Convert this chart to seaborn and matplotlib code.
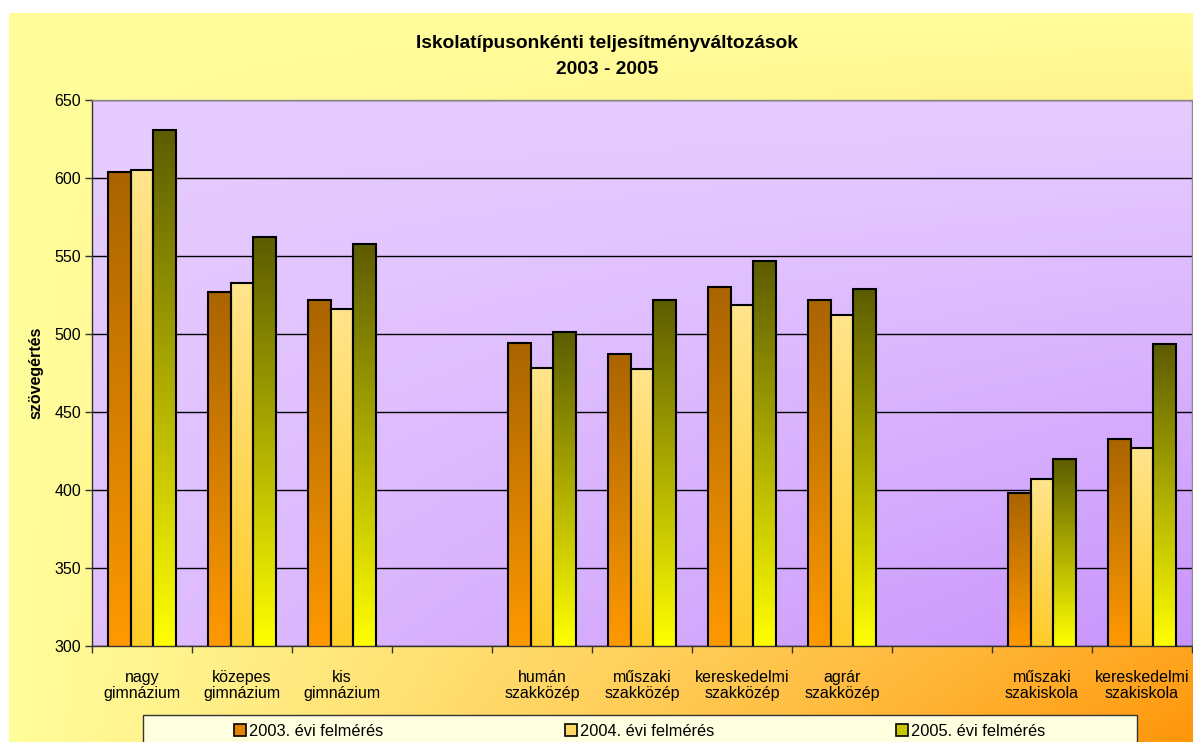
import numpy as np
import pandas as pd
import matplotlib
matplotlib.use("Agg")
import matplotlib.pyplot as plt
import seaborn as sns
from matplotlib.patches import Rectangle

# ---------------- data ----------------
categories = ["nagy\ngimnázium", "közepes\ngimnázium", "kis\ngimnázium", " ",
              "humán\nszakközép", "műszaki\nszakközép", "kereskedelmi\nszakközép",
              "agrár\nszakközép", "  ", "műszaki\nszakiskola", "kereskedelmi\nszakiskola"]
series = ["2003. évi felmérés", "2004. évi felmérés", "2005. évi felmérés"]
values_2003 = [604, 527, 522, None, 494, 487, 530, 522, None, 398, 433]
values_2004 = [605, 533, 516, None, 478, 477.5, 518.5, 512, None, 407, 427]
values_2005 = [631, 562, 558, None, 501, 522, 547, 529, None, 420, 493.5]
y_ticks = [300, 350, 400, 450, 500, 550, 600, 650]

title_1 = "Iskolatípusonkénti teljesítményváltozások"
title_2 = "2003 - 2005"
y_label = "szövegértés"

rows = []
for s, vals in zip(series, [values_2003, values_2004, values_2005]):
    for c, v in zip(categories, vals):
        if v is not None:
            rows.append({"category": c, "series": s, "value": v})
df = pd.DataFrame(rows)

# ---------------- style ----------------
plt.rcParams['font.family'] = ['Liberation Sans', 'DejaVu Sans']

W, H = 1193, 742
fig = plt.figure(figsize=(W / 100, H / 100), dpi=100, facecolor="white")

# chart background gradient (yellow -> orange to bottom-right)
bg = fig.add_axes([9 / W, 0, 1 - 9 / W, 1 - 13 / H], zorder=-5)
nx, ny = 300, 200
X = np.linspace(0, 1, nx)[None, :]
Y = np.linspace(0, 1, ny)[:, None]
t = (X * Y) ** 1.1
c0 = np.array([255, 253, 155]) / 255
c1 = np.array([255, 150, 10]) / 255
img = c0[None, None, :] * (1 - t[..., None]) + c1[None, None, :] * t[..., None]
bg.imshow(img, extent=[0, 1, 0, 1], aspect="auto", origin="upper", interpolation="bilinear")
bg.set_axis_off()

# legend box
fig.patches.append(Rectangle((143 / W, -0.05), (1137 - 143) / W, 0.05 + 1 - 715 / H,
                             transform=fig.transFigure, facecolor=(1, 1, 0.88),
                             edgecolor="#333333", linewidth=1.0, zorder=-1))

ax = fig.add_axes([92 / W, 1 - 646 / H, 1100 / W, 546 / H])

# plot area gradient
t2 = 0.25 * Y + 0.75 * (X * Y)
p0 = np.array([231, 205, 255]) / 255
p1 = np.array([200, 148, 252]) / 255
img2 = p0[None, None, :] * (1 - t2[..., None]) + p1[None, None, :] * t2[..., None]
ax.imshow(img2, extent=[0, 1, 0, 1], transform=ax.transAxes, aspect="auto",
          origin="upper", interpolation="bilinear", zorder=-10)

top_cols = [(170, 100, 0), (255, 228, 140), (92, 92, 0)]
bot_cols = [(255, 153, 0), (255, 204, 40), (255, 255, 0)]
mid_cols = [(225, 130, 0), (255, 215, 100), (200, 200, 0)]
pal = [tuple(np.array(c) / 255) for c in mid_cols]

sns.barplot(data=df, x="category", y="value", hue="series", order=categories,
            hue_order=series, palette=pal, width=0.675, dodge=True, errorbar=None,
            saturation=1, edgecolor="black", linewidth=1.5, legend=False, ax=ax, zorder=3)

ymin, ymax = 300, 650
# gradient fill per bar
for i, s in enumerate(series):
    cont = ax.containers[i]
    tc = np.array(top_cols[i]) / 255
    bc = np.array(bot_cols[i]) / 255
    for p in cont.patches:
        h = p.get_height()
        if h is None or not np.isfinite(h) or h <= 0:
            continue
        x0 = p.get_x()
        w = p.get_width()
        g = np.linspace(0, 1, 100)[:, None, None]
        grad = tc[None, None, :] * (1 - g) + bc[None, None, :] * g
        grad = np.repeat(grad, 2, axis=1)
        ax.imshow(grad, extent=[x0, x0 + w, ymin, h], aspect="auto", origin="upper",
                  interpolation="bilinear", zorder=2.5)
        p.set_facecolor("none")

ax.set_xlim(-0.5, len(categories) - 0.5)
ax.set_ylim(ymin, ymax)
ax.set_yticks(y_ticks)
ax.set_yticklabels([str(v) for v in y_ticks], fontsize=11.5)
ax.set_axisbelow(True)
ax.yaxis.grid(True, color="black", linewidth=1.0, zorder=1)
ax.xaxis.grid(False)

# x labels at centers, ticks at boundaries
ax.set_xticks(range(len(categories)))
ax.set_xticklabels(categories, fontsize=11.5, linespacing=1.15)
ax.tick_params(axis="x", which="major", length=0, pad=17)
ax.set_xticks(np.arange(-0.5, len(categories) - 0.4, 1.0), minor=True)
ax.tick_params(axis="x", which="minor", length=5, width=1, color="#333333", direction="out")
ax.tick_params(axis="y", length=5, width=1, color="#333333", pad=3, labelcolor="black")

ax.set_xlabel("")
ax.set_ylabel(y_label, fontsize=11.5, fontweight="bold")
ax.yaxis.set_label_coords((43 - 92) / 1100, 0.5)

for side in ["left", "bottom"]:
    ax.spines[side].set_color("#333333")
    ax.spines[side].set_linewidth(1.0)
for side in ["top", "right"]:
    ax.spines[side].set_color("#888888")
    ax.spines[side].set_linewidth(1.0)

# title
fig.text(607 / W, 1 - 43 / H, title_1, ha="center", va="center", fontsize=13.8, fontweight="bold")
fig.text(607 / W, 1 - 70 / H, title_2, ha="center", va="center", fontsize=13.8, fontweight="bold")

# legend
handles = [Rectangle((0, 0), 1, 1, facecolor=c, edgecolor="black", linewidth=1.2) for c in pal]
fig.legend(handles, series, loc="center left", bbox_to_anchor=(234 / W, 1 - 731 / H),
           ncol=3, frameon=False, fontsize=11.8, handlelength=0.75, handleheight=0.75,
           handletextpad=0.15, columnspacing=11.1, borderaxespad=0, borderpad=0)

fig.savefig("out.png", dpi=100, facecolor="white")
